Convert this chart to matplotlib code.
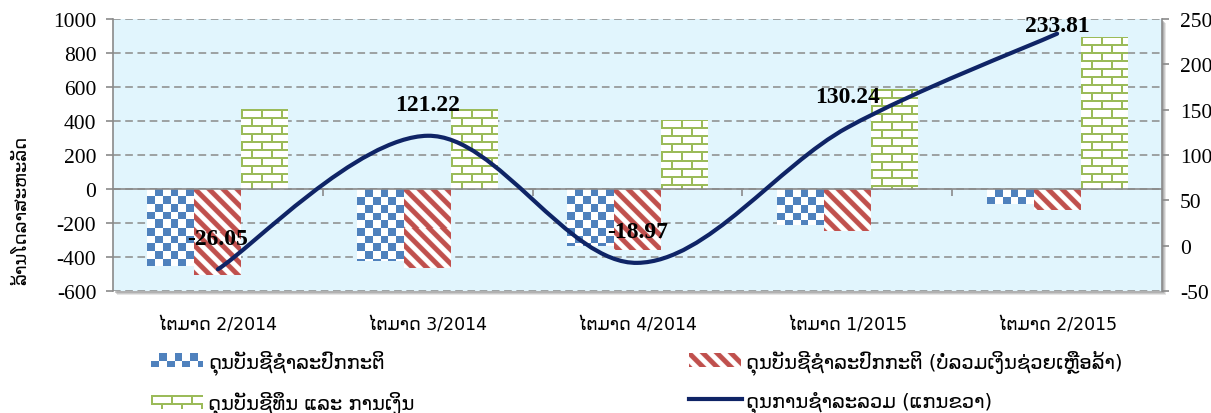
import numpy as np
import matplotlib
matplotlib.use('Agg')
import matplotlib.pyplot as plt
import matplotlib.colors as mcolors
from matplotlib.path import Path
from matplotlib.patches import PathPatch, Patch, Rectangle
from matplotlib.lines import Line2D
from matplotlib.transforms import blended_transform_factory

# data
quarters = ['ໄຕມາດ 2/2014', 'ໄຕມາດ 3/2014', 'ໄຕມາດ 4/2014', 'ໄຕມາດ 1/2015', 'ໄຕມາດ 2/2015']
current_acc = [-453, -422, -337, -210, -88]
current_acc_ex = [-506, -466, -357, -245, -122]
capital_fin = [470, 470, 406, 588, 896]
overall_bal = [-26.05, 121.22, -18.97, 130.24, 233.81]

series_names = ['ດຸນບັນຊີຊໍາລະປົກກະຕິ',
                'ດຸນບັນຊີຊໍາລະປົກກະຕິ (ບໍ່ລວມເງິນຊ່ວຍເຫຼືອລ້າ)',
                'ດຸນບັນຊີທຶນ ແລະ ການເງິນ',
                'ດຸນການຊໍາລະລວມ (ແກນຂວາ)']
y_title = 'ລ້ານໂດລາສະຫະລັດ'

BLUE = '#4F81BD'
RED = '#C0504D'
GREEN = '#9BBB59'
NAVY = '#0F2466'
GRID = '#8A8A8A'
BG = '#E1F5FD'

plt.rcParams['font.family'] = ['DejaVu Sans']
plt.rcParams['axes.unicode_minus'] = False

W, H = 1211, 414
LAO_SIZE = 12.5


def blend(m, col):
    rgb = np.array(mcolors.to_rgb(col))
    m = m[..., None]
    return np.ones(m.shape[:2] + (3,)) * (1 - m) + rgb * m


def checker(h, w, s=7.7):
    i, j = np.mgrid[0:h, 0:w]
    m = ((np.floor(i / s) + np.floor(j / s)) % 2).astype(float)
    return blend(m, BLUE)


def stripes(h, w, p=14.0):
    i, j = np.mgrid[0:h, 0:w]
    t = np.cos(2 * np.pi * (j - i) / p)
    m = np.clip(0.5 + 1.5 * t, 0, 1)
    return blend(m, RED)


def bricks(h, w, bh=8, bw=20, lw=2):
    i, j = np.mgrid[0:h, 0:w]
    row = i // bh
    hor = (i % bh) < lw
    ver = ((j + (row % 2) * (bw // 2)) % bw) < lw
    m = (hor | ver).astype(float)
    return blend(m, GREEN)


fig = plt.figure(figsize=(W / 100, H / 100), dpi=100)
ax = fig.add_axes([113 / W, 1 - 292 / H, (1162 - 113) / W, (292 - 20) / H])
ax.set_facecolor(BG)

# soft shadow under the plot area
for k, a in [(4, 0.25), (3, 0.35), (2, 0.5)]:
    fig.add_artist(Rectangle(((113 + k) / W, (H - 292 - k) / H), (1162 - 113) / W, (292 - 20) / H,
                             transform=fig.transFigure, facecolor='#9A9A9A', edgecolor='none',
                             alpha=a, zorder=-1))

x = np.arange(len(quarters))
bw = 0.224
ax.set_xlim(-0.5, 4.5)
ax.set_ylim(-600, 1000)

bars_blue = ax.bar(x - bw, current_acc, bw, facecolor='none', edgecolor='none')
bars_red = ax.bar(x, current_acc_ex, bw, facecolor='none', edgecolor='none')
bars_green = ax.bar(x + bw, capital_fin, bw, facecolor='none', edgecolor='none')


def fill_bars(bars, maker):
    for b in bars:
        x0, y0 = b.get_x(), b.get_y()
        w, hg = b.get_width(), b.get_height()
        p0 = ax.transData.transform((x0, y0))
        p1 = ax.transData.transform((x0 + w, y0 + hg))
        npw = max(1, int(round(abs(p1[0] - p0[0]))))
        nph = max(1, int(round(abs(p1[1] - p0[1]))))
        ylo, yhi = sorted([y0, y0 + hg])
        im = ax.imshow(maker(nph, npw), extent=(x0, x0 + w, ylo, yhi), origin='upper',
                       aspect='auto', interpolation='nearest', zorder=1.5)
        im.set_clip_path(b)


fill_bars(bars_blue, checker)
fill_bars(bars_red, stripes)
fill_bars(bars_green, bricks)
ax.set_xlim(-0.5, 4.5)
ax.set_ylim(-600, 1000)

# axes styling
ax.set_axisbelow(True)
ax.yaxis.grid(True, color=GRID, linestyle=(0, (5, 3)), linewidth=1.1)
ax.set_yticks(np.arange(-600, 1001, 200))
for s in ['top', 'right']:
    ax.spines[s].set_visible(False)
ax.spines['left'].set_color(GRID)
ax.spines['left'].set_linewidth(1.2)
ax.spines['bottom'].set_position(('data', 0))
ax.spines['bottom'].set_color(GRID)
ax.spines['bottom'].set_linewidth(1.2)
ax.spines['bottom'].set_zorder(2.5)
ax.set_xticks(x[:-1] + 0.5)
ax.tick_params(axis='x', direction='out', length=5, color=GRID, width=1.2, labelbottom=False)
ax.tick_params(axis='y', direction='out', length=5, color=GRID, width=1.2, pad=7,
               labelsize=15.5, labelfontfamily='Liberation Serif')

trans = blended_transform_factory(ax.transData, ax.transAxes)
for i, q in enumerate(quarters):
    ax.text(i, (292 - 325) / 272, q, transform=trans, ha='center', va='center', fontsize=LAO_SIZE)

ax.set_ylabel(y_title, fontsize=13)
ax.yaxis.set_label_coords((30 - 113) / 1049, (292 - 210) / 272)

# right axis with smoothed line
ax2 = ax.twinx()
ax2.set_ylim(-50, 250)
ax2.set_yticks(np.arange(-50, 251, 50))
for s in ['top', 'left', 'bottom']:
    ax2.spines[s].set_visible(False)
ax2.spines['right'].set_color(GRID)
ax2.spines['right'].set_linewidth(1.2)
ax2.tick_params(axis='y', direction='out', length=5, color=GRID, width=1.2, pad=8,
                labelsize=15.5, labelfontfamily='Liberation Serif')

pts = np.column_stack([x, overall_bal]).astype(float)
verts = [tuple(pts[0])]
codes = [Path.MOVETO]
n = len(pts)
for i in range(n - 1):
    pa = pts[i - 1] if i > 0 else pts[i]
    pd = pts[i + 2] if i + 2 < n else pts[i + 1]
    c1 = pts[i] + (pts[i + 1] - pa) / 6
    c2 = pts[i + 1] - (pd - pts[i]) / 6
    verts += [tuple(c1), tuple(c2), tuple(pts[i + 1])]
    codes += [Path.CURVE4] * 3
ax2.add_patch(PathPatch(Path(verts, codes), facecolor='none', edgecolor=NAVY, lw=3,
                        capstyle='round', zorder=3))

top_px = ax2.transAxes.transform((0, 1))[1]
for xi, v in zip(x, overall_bal):
    py = ax2.transData.transform((xi, v))[1]
    dy = min(31, top_px - 7 - py)
    ax2.annotate('{:.2f}'.format(v), (xi, v), xytext=(0, dy), textcoords='offset pixels',
                 ha='center', va='center', fontsize=17, fontweight='bold',
                 family='Liberation Serif', zorder=4)

# legends, two columns placed separately
leg_kw = dict(loc='upper left', frameon=False, fontsize=14, handlelength=2.7,
              handleheight=0.75, handletextpad=0.25, labelspacing=0.85,
              borderpad=0, borderaxespad=0)
leg1 = fig.legend([Patch(facecolor='none', edgecolor='none'), Patch(facecolor='none', edgecolor='none')],
                  [series_names[0], series_names[2]],
                  bbox_to_anchor=(151 / W, 1 - 350 / H), **leg_kw)
leg2 = fig.legend([Patch(facecolor='none', edgecolor='none'), Line2D([], [], color=NAVY, lw=3)],
                  [series_names[1], series_names[3]],
                  bbox_to_anchor=(689 / W, 1 - 350 / H), **leg_kw)

fig.canvas.draw()
r = fig.canvas.get_renderer()
for leg, k, maker in [(leg1, 0, checker), (leg1, 1, bricks), (leg2, 0, stripes)]:
    bb = leg.legend_handles[k].get_window_extent(r)
    fig.figimage(maker(int(round(bb.height)), int(round(bb.width))),
                 xo=int(round(bb.x0)), yo=int(round(bb.y0)), origin='upper', zorder=6)

fig.savefig('out.png', dpi=100)
